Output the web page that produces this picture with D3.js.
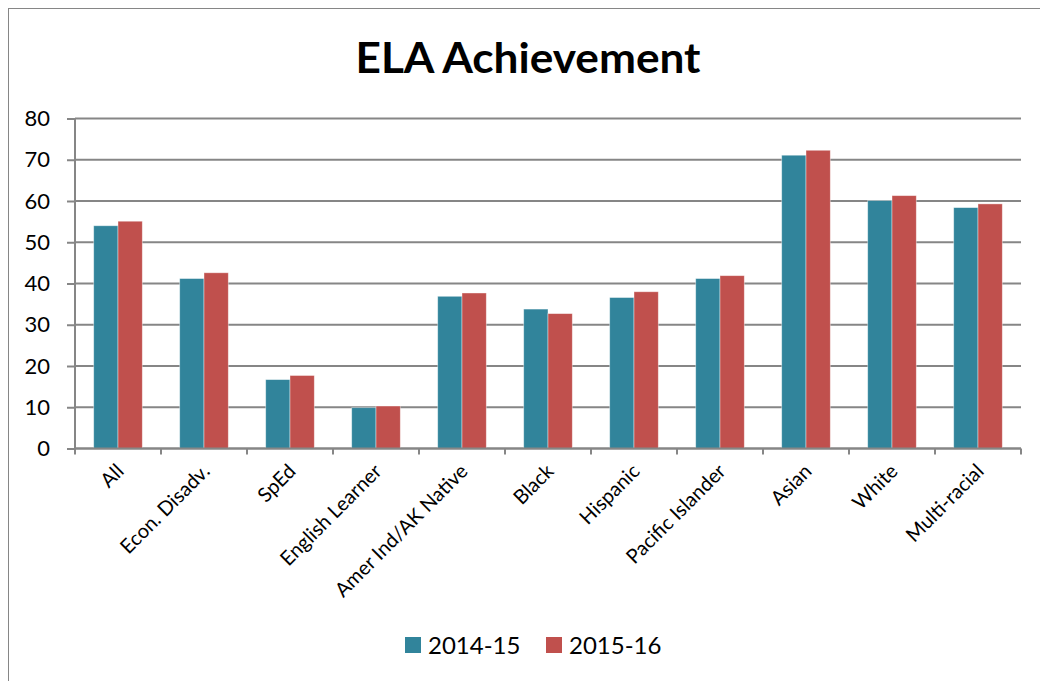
<!DOCTYPE html>
<html>
<head>
<meta charset="utf-8">
<script src="https://cdn.jsdelivr.net/npm/d3@7"></script>
<style>
  html, body { margin: 0; padding: 0; background: #fff; }
  svg { display: block; }
  text { font-family: Lato, "Open Sans", sans-serif; fill: #000; }
</style>
</head>
<body>
<svg id="chart"></svg>
<script>
// chart data
var categories = ['All', 'Econ. Disadv.', 'SpEd', 'English Learner', 'Amer Ind/AK Native',
    'Black', 'Hispanic', 'Pacific Islander', 'Asian', 'White', 'Multi-racial'];
var seriesNames = ['2014-15', '2015-16'];
var values2014 = [54, 41.2, 16.7, 9.9, 36.9, 33.8, 36.6, 41.2, 71.1, 60.1, 58.4];
var values2015 = [55.1, 42.6, 17.7, 10.3, 37.7, 32.7, 38.0, 41.9, 72.3, 61.3, 59.3];
var yTicks = [0, 10, 20, 30, 40, 50, 60, 70, 80];
var colors = ['#31849B', '#C0504D'];

var width = 1040, height = 681;
var margin = {top: 118.5, left: 75, right: 19, bottom: 233};

var svg = d3.select('#chart').attr('width', width).attr('height', height);

// outer frame
svg.append('rect')
    .attr('x', 8.5).attr('y', 8.5)
    .attr('width', width + 10).attr('height', height + 10)
    .attr('fill', 'none').attr('stroke', '#868686').attr('stroke-width', 1);

svg.append('text')
    .attr('x', 528).attr('y', 73)
    .attr('text-anchor', 'middle')
    .attr('textLength', 345).attr('lengthAdjust', 'spacingAndGlyphs')
    .style('font-size', '42px').style('font-weight', 'bold')
    .text('ELA Achievement');

var x0 = d3.scaleBand()
    .domain(categories)
    .range([margin.left, width - margin.right])
    .paddingInner(0.435).paddingOuter(0.2175);

var x1 = d3.scaleBand()
    .domain(seriesNames)
    .range([0, x0.bandwidth()]);

var y = d3.scaleLinear()
    .domain([0, 80])
    .range([height - margin.bottom + 0.5, margin.top]);

// y axis ticks and labels
var yAxis = svg.append('g')
    .attr('transform', 'translate(' + margin.left + ',0)')
    .call(d3.axisLeft(y).tickValues(yTicks).tickSize(8).tickPadding(17)
        .tickFormat(d3.format('d')));
yAxis.select('.domain').remove();
yAxis.selectAll('.tick line').attr('stroke', '#868686').attr('stroke-width', 2);
yAxis.selectAll('.tick text').style('font-size', '22px');

// gridlines
var grid = svg.append('g').attr('class', 'grid');
grid.selectAll('line')
    .data(yTicks)
    .enter()
    .append('line')
    .attr('x1', margin.left)
    .attr('x2', width - margin.right)
    .attr('y1', function (d) { return y(d); })
    .attr('y2', function (d) { return y(d); })
    .attr('stroke', '#868686')
    .attr('stroke-width', 2);

// vertical axis line
svg.append('line')
    .attr('x1', margin.left).attr('x2', margin.left)
    .attr('y1', y(80)).attr('y2', y(0))
    .attr('stroke', '#868686').attr('stroke-width', 2);

// bars
var rows = categories.map(function (c, i) {
    return {category: c, values: [values2014[i], values2015[i]]};
});

var groups = svg.append('g').attr('class', 'bars')
    .selectAll('g')
    .data(rows)
    .enter()
    .append('g')
    .attr('transform', function (d) { return 'translate(' + x0(d.category) + ',0)'; });

groups.selectAll('rect')
    .data(function (d) {
        return d.values.map(function (v, k) { return {name: seriesNames[k], value: v, k: k}; });
    })
    .enter()
    .append('rect')
    .attr('x', function (d) { return x1(d.name); })
    .attr('width', x1.bandwidth())
    .attr('y', function (d) { return y(d.value); })
    .attr('height', function (d) { return y(0) - y(d.value); })
    .attr('fill', function (d) { return colors[d.k]; })
    .attr('stroke', '#fff').attr('stroke-opacity', 0.5).attr('stroke-width', 0.8);

// x axis
var xStep = x0.step();
var xTickPos = d3.range(categories.length + 1).map(function (i) { return margin.left + i * xStep; });
svg.append('line')
    .attr('x1', margin.left).attr('x2', width - margin.right)
    .attr('y1', y(0)).attr('y2', y(0))
    .attr('stroke', '#868686').attr('stroke-width', 2);
svg.append('g').selectAll('line')
    .data(xTickPos)
    .enter()
    .append('line')
    .attr('x1', function (d) { return d; })
    .attr('x2', function (d) { return d; })
    .attr('y1', y(0)).attr('y2', y(0) + 6)
    .attr('stroke', '#868686').attr('stroke-width', 2);

svg.append('g').selectAll('text')
    .data(categories)
    .enter()
    .append('text')
    .attr('text-anchor', 'end')
    .attr('transform', function (d) {
        var cx = x0(d) + x0.bandwidth() / 2 + 7;
        return 'translate(' + cx + ',' + (y(0) + 24) + ') rotate(-45)';
    })
    .style('font-size', '20px')
    .text(function (d) { return d; });

// legend
var legend = svg.append('g').attr('class', 'legend');
var legendX = [405, 546];
seriesNames.forEach(function (name, k) {
    legend.append('rect')
        .attr('x', legendX[k]).attr('y', 637)
        .attr('width', 16).attr('height', 16)
        .attr('fill', colors[k]);
    legend.append('text')
        .attr('x', legendX[k] + 23).attr('y', 654)
        .style('font-size', '24px')
        .text(name);
});
</script>
</body>
</html>
